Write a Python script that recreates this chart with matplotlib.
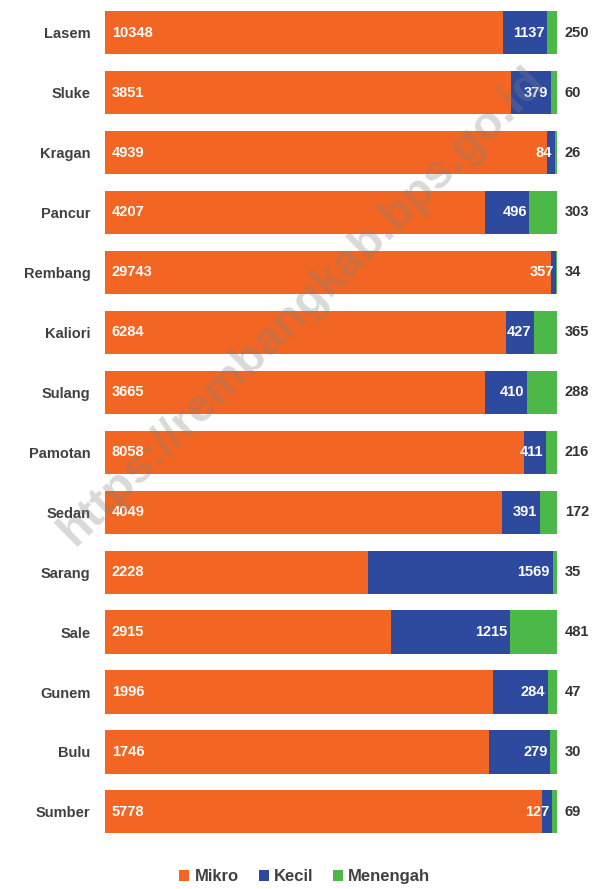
import numpy as np
import matplotlib.pyplot as plt

# Data
kecamatan = ['Lasem', 'Sluke', 'Kragan', 'Pancur', 'Rembang', 'Kaliori', 'Sulang',
             'Pamotan', 'Sedan', 'Sarang', 'Sale', 'Gunem', 'Bulu', 'Sumber']
mikro = [10348, 3851, 4939, 4207, 29743, 6284, 3665, 8058, 4049, 2228, 2915, 1996, 1746, 5778]
kecil = [1137, 379, 84, 496, 357, 427, 410, 411, 391, 1569, 1215, 284, 279, 127]
menengah = [250, 60, 26, 303, 34, 365, 288, 216, 172, 35, 481, 47, 30, 69]

c_mikro = '#F26522'
c_kecil = '#2E4A9E'
c_menengah = '#4CB848'

plt.rcParams['font.family'] = ['Liberation Sans', 'DejaVu Sans']

mikro = np.array(mikro, dtype=float)
kecil = np.array(kecil, dtype=float)
menengah = np.array(menengah, dtype=float)
total = mikro + kecil + menengah
p_mikro = mikro / total * 100
p_kecil = kecil / total * 100
p_menengah = menengah / total * 100

fig = plt.figure(figsize=(5.93, 8.89), dpi=100)
ax = fig.add_axes([0.177, 0.053, 0.762, 0.944])

y = np.arange(len(kecamatan))
h = 0.72
ax.barh(y, p_mikro, height=h, color=c_mikro, label='Mikro')
ax.barh(y, p_kecil, height=h, left=p_mikro, color=c_kecil, label='Kecil')
ax.barh(y, p_menengah, height=h, left=p_mikro + p_kecil, color=c_menengah, label='Menengah')

for i in range(len(kecamatan)):
    ax.text(1.5, y[i], f'{int(mikro[i])}', color='white', fontsize=10.5,
            fontweight='bold', va='center', ha='left')
    ax.text(p_mikro[i] + p_kecil[i] - 0.6, y[i], f'{int(kecil[i])}', color='white',
            fontsize=10.5, fontweight='bold', va='center', ha='right')
    ax.text(101.8, y[i], f'{int(menengah[i])}', color='#333333', fontsize=10.5,
            fontweight='bold', va='center', ha='left')

ax.set_xlim(0, 100)
ax.set_ylim(len(kecamatan) - 0.5, -0.5)
ax.set_yticks(y)
ax.set_yticklabels(kecamatan, fontsize=10.5, fontweight='bold', color='#404040')
ax.tick_params(axis='y', length=0, pad=10.5)
ax.set_xticks([])
for s in ax.spines.values():
    s.set_visible(False)

leg = fig.legend(loc='center', bbox_to_anchor=(0.514, 0.0135), ncol=3, frameon=False,
                 handlelength=0.6, handleheight=0.6, handletextpad=0.3, columnspacing=1.2,
                 prop={'size': 12, 'weight': 'bold'})
for t in leg.get_texts():
    t.set_color('#404040')

# Watermark
fig.text(0.51, 0.655, 'https://rembangkab.bps.go.id', fontsize=34, rotation=44.5,
         color='#808080', alpha=0.3, ha='center', va='center', fontweight='bold')

fig.savefig('out.png', dpi=100)
